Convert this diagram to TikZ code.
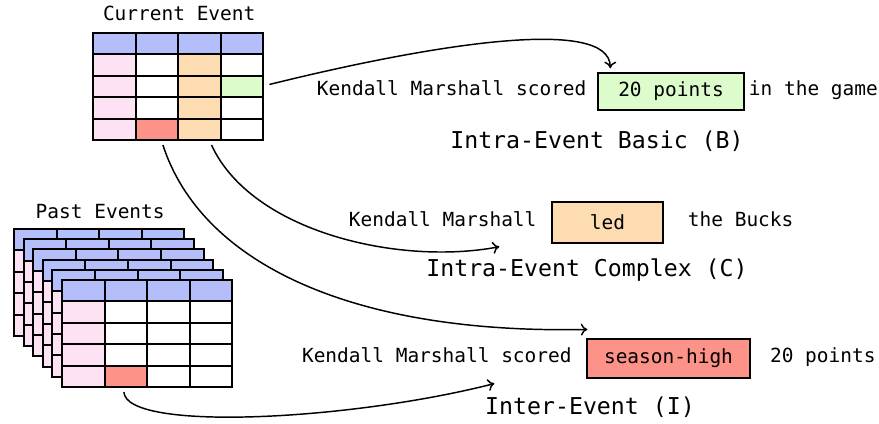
\documentclass[tikz,border=0pt]{standalone}
\usepackage{fontspec}
\setmonofont{DejaVu Sans Mono}
\usetikzlibrary{positioning,calc,arrows.meta}

\definecolor{hdrfill}{RGB}{180,190,250}
\definecolor{keyfill}{RGB}{253,226,243}
\definecolor{valfill}{RGB}{253,220,178}
\definecolor{newfill}{RGB}{221,252,204}
\definecolor{hotfill}{RGB}{253,146,136}

\tikzset{every picture/.style={line width=0.75pt}}
\tikzset{
  cell/.style={draw, line width=1.5pt, anchor=north west, inner sep=0pt,
    minimum width=31.95pt, minimum height=16.05pt},
  say/.style={font=\ttfamily\fontsize{14.6}{17}\selectfont, inner sep=0.75pt,
    text height=0.75em, text depth=0.22em},
  tag/.style={font=\ttfamily\fontsize{17.4}{20}\selectfont, inner sep=0.75pt},
  slot/.style={draw, line width=1.1pt, inner sep=0pt,
    font=\ttfamily\fontsize{14.6}{17}\selectfont},
  link/.style={line width=1.1pt, -{To[length=5pt,width=9pt]}},
}

% one event table: name, left, top, list of row/col/colour
\newcommand{\evtable}[4]{%
  \foreach \r in {1,...,5}{%
    \foreach \c in {1,...,4}{%
      \ifnum\r=1 \xdef\tabfill{hdrfill}\else
        \ifnum\c=1 \xdef\tabfill{keyfill}\else\xdef\tabfill{white}\fi\fi
      \foreach \hr/\hc/\hf in {#4}{%
        \ifnum\hr=\r \ifnum\hc=\c \xdef\tabfill{\hf}\fi\fi}%
      \node[cell, fill=\tabfill] (#1-\r-\c) at ({#2+(\c-1)*42.6},{#3+(\r-1)*21.4}) {};
    }}}

\begin{document}
\begin{tikzpicture}[x=0.75pt,y=0.75pt,yscale=-1,xscale=1]
    \useasboundingbox (0,0) rectangle (879,424);

    %Shape: Table [current]
    \evtable{cur}{92}{32}{2/3/valfill,3/3/valfill,4/3/valfill,5/3/valfill,3/4/newfill,5/2/hotfill}

    %Shape: Table stack [past]
    \foreach \k in {0,...,4}{\evtable{back\k}{13+9.6*\k}{228+10.2*\k}{0/0/white}}
    \evtable{past}{61}{279}{5/2/hotfill}

    % Text Node
    \node[say, above=5pt of cur-1-2.north east] (curtitle) {Current Event};
    % Text Node
    \node[say, above=4pt of back0-1-2.north east] (pasttitle) {Past Events};

    %Shape: Rectangle [basic]
    \node[slot, fill=newfill, minimum width=109.5pt, minimum height=27.75pt] (pts) at (671,91.5) {20 points};
    \node[say, left=7pt of pts] (saidB) {Kendall Marshall scored};
    \node[say, right=2pt of pts] (tailB) {in the game};
    \node[tag] (kindB) at (597,141) {Intra-Event Basic (B)};

    %Shape: Rectangle [complex]
    \node[slot, fill=valfill, minimum width=83.25pt, minimum height=30.75pt] (led) at (607.5,222.5) {led};
    \node[say, left=10pt of led] (saidC) {Kendall Marshall};
    \node[say, right=17pt of led] (tailC) {the Bucks};
    \node[tag] (kindC) at (587,270) {Intra-Event Complex (C)};

    %Shape: Rectangle [inter]
    \node[slot, fill=hotfill, minimum width=122pt, minimum height=29pt] (high) at (668.5,358.5) {season-high};
    \node[say, left=10pt of high] (saidI) {Kendall Marshall scored};
    \node[say, right=13.5pt of high] (tailI) {20 points};
    \node[tag] (kindI) at (590,407) {Inter-Event (I)};

    %Curves
    \draw[link] ($(cur-3-4.east)+(5,-2)$) .. controls +(153,-38) and +(0,-54) .. ($(pts.north west)+(13,-4)$);
    \draw[link] ($(cur-5-3.south)+(12,4)$) .. controls +(40,87) and +(-100,19) .. ($(led.south west)+(-52,3)$);
    \draw[link] ($(cur-5-2.south)+(6,4)$) .. controls +(38,117) and +(-238,5) .. ($(high.north west)+(1,-9)$);
    \draw[link] ($(past-5-2.south)+(-2,4)$) .. controls +(2,40) and +(-145,37) .. ($(high.south west)+(-92,5)$);
\end{tikzpicture}
\end{document}
